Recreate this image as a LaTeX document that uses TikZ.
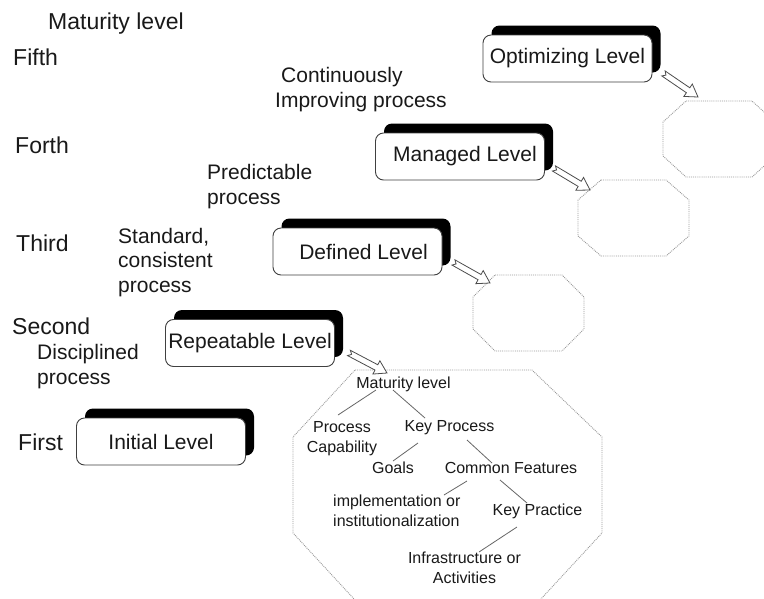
\documentclass[tikz,border=0pt]{standalone}
\usepackage{fontspec}
\setmainfont{Liberation Sans}
\usetikzlibrary{shadows,calc}

% notched hollow block arrow laid from one named point (tail) to another (tip)
\newcommand\hollowarrow[3]{%
  \coordinate (#1n) at ($(#3)!12pt!(#2)$);
  \filldraw[hollow]
    ($(#2)!3pt!90:(#3)$) -- ($(#1n)!3pt!90:(#3)$) -- ($(#1n)!7.5pt!90:(#3)$) --
    (#3) --
    ($(#1n)!7.5pt!-90:(#3)$) -- ($(#1n)!3pt!-90:(#3)$) -- ($(#2)!3pt!-90:(#3)$) --
    ($(#2)!3pt!(#3)$) -- cycle;}

\begin{document}
\begin{tikzpicture}[x=1pt,y=-1pt,
  every node/.style={text=black!90},
  rank/.style={font=\fontsize{23}{27}\selectfont, inner sep=0pt, anchor=base west},
  note/.style={font=\fontsize{21}{24.5}\selectfont, inner sep=0pt, align=left, anchor=base west},
  levelbox/.style={draw=black!75, line width=0.9pt, fill=white, rounded corners=8pt,
     minimum width=169pt, minimum height=47pt, inner sep=0pt,
     font=\fontsize{21}{25}\selectfont,
     general shadow={fill=black, shadow xshift=8.5pt, shadow yshift=9.5pt}},
  octo/.style={draw=black!40, densely dotted, line width=0.9pt},
  item/.style={font=\fontsize{16}{19.5}\selectfont, inner sep=0pt, anchor=base, align=center},
  branch/.style={draw=black!60, line width=0.8pt},
  hollow/.style={draw=black!70, fill=white, line width=0.8pt, line join=miter},
]
\useasboundingbox (0,0) rectangle (764,598);
\fill[white] (0,0) rectangle (764,598);

% rank labels on the left
\node[rank] (mhead) at (48,29) {Maturity level};
\node[rank] (fifth) at (13,65) {Fifth};
\node[rank] (forth) at (15,153) {Forth};
\node[rank] (third) at (16,251) {Third};
\node[rank] (second) at (12,334) {Second};
\node[rank] (first) at (18,450) {First};

% process characteristics (base = last line)
\node[note] (n5) at (275,107) {\hspace*{6pt}Continuously\\Improving process};
\node[note] (n4) at (207,204) {Predictable\\process};
\node[note] (n3) at (118,292) {Standard,\\consistent\\process};
\node[note] (n2) at (37,384) {Disciplined\\process};

% octagons
\draw[octo] (686,101) -- (752,101) -- (775,122) -- (775,156) -- (752,177) -- (686,177) -- (663,156) -- (663,122) -- cycle;
\draw[octo] (601,180) -- (666,180) -- (689,200) -- (689,236) -- (666,256) -- (601,256) -- (578,236) -- (578,200) -- cycle;
\draw[octo] (495,275) -- (562,275) -- (584,297) -- (584,329) -- (562,351) -- (495,351) -- (473,329) -- (473,297) -- cycle;
\draw[octo] (355,370) -- (532,370) -- (602,437) -- (602,533) -- (540,600) -- (355,600) -- (293,533) -- (293,437) -- cycle;

% level boxes
\node[levelbox] (opt) at (567.5,58.5) {Optimizing Level};
\node[levelbox] (man) at (460,156.5) {\hspace*{10pt}Managed Level};
\node[levelbox] (def) at (357.5,251.5) {\hspace*{12pt}Defined Level};
\node[levelbox] (rep) at (250,343) {Repeatable Level};
\node[levelbox] (ini) at (161,441.5) {Initial Level};

% arrow ends
\coordinate (t5) at ($(opt.south east)+(11,-9)$);
\coordinate (t4) at ($(man.south east)+(9,-12)$);
\coordinate (t3) at ($(def.south east)+(11,-13)$);
\coordinate (t2) at ($(rep.south east)+(14,-14)$);
\coordinate (h5) at (698,97);
\coordinate (h4) at (590,190);
\coordinate (h3) at (490,283);
\coordinate (h2) at (387,373);

% content of the maturity level (multi-line nodes sit on their last line)
\node[item] (root) at (403.5,388) {Maturity level};
\node[item] (cap) at (342,452) {Process\\Capability};
\node[item] (kp) at (449.5,431) {Key Process};
\node[item] (goals) at (393,473) {Goals};
\node[item] (cf) at (511,473) {Common Features};
\node[item, align=left, anchor=base west] (impl) at (333,526) {implementation or\\institutionalization};
\node[item] (kpr) at (537.5,515) {Key Practice};
\node[item] (infra) at (464.5,583) {Infrastructure or\\Activities};

\draw[branch] ($(root.base)+(-27.5,2)$) -- ($(cap.base)+(-4,-37)$);
\draw[branch] ($(root.base)+(-10.5,2)$) -- ($(kp.base)+(-24.5,-13)$);
\draw[branch] ($(kp.base)+(-31.5,12)$) -- ($(goals.base)+(0,-12)$);
\draw[branch] ($(kp.base)+(17.5,9)$) -- ($(cf.base)+(-19,-10)$);
\draw[branch] ($(cf.base)+(-44,8)$) -- ($(impl.base west)+(111,-31)$);
\draw[branch] ($(cf.base)+(-11,7)$) -- ($(kpr.base)+(-10.5,-12)$);
\draw[branch] ($(kpr.base)+(-20.5,12)$) -- ($(infra.base)+(14.5,-31)$);

% hollow arrows from each level to its octagon
\hollowarrow{a5}{t5}{h5}
\hollowarrow{a4}{t4}{h4}
\hollowarrow{a3}{t3}{h3}
\hollowarrow{a2}{t2}{h2}
\end{tikzpicture}
\end{document}
